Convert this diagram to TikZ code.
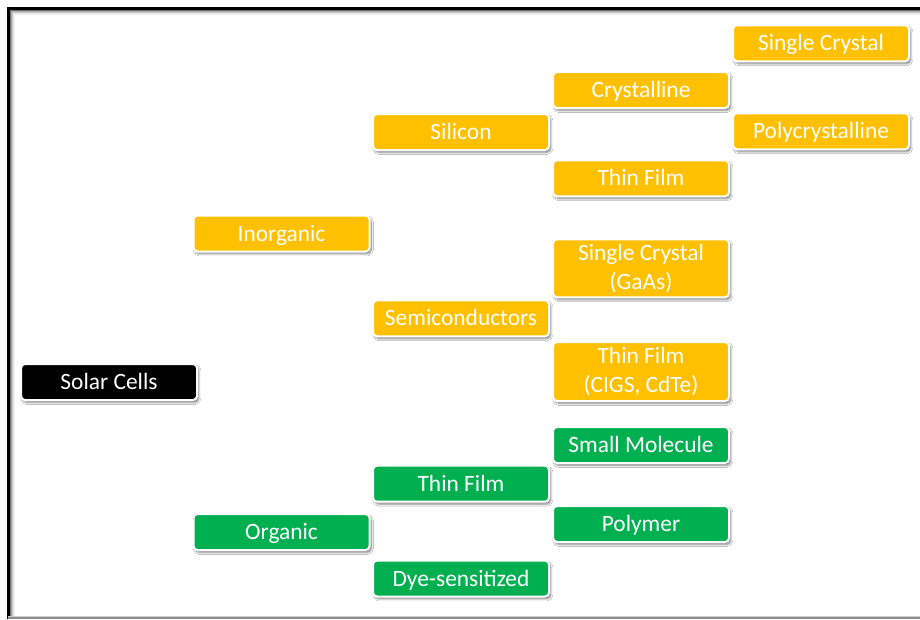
\documentclass[tikz,border=0pt]{standalone}
\usepackage{fontspec}
\setmainfont{Carlito}
\usetikzlibrary{shadows.blur}
\definecolor{amber}{HTML}{FFC000}
\definecolor{leaf}{HTML}{00B050}
\tikzset{
  box/.style={rectangle, rounded corners=4pt, draw=white, line width=2pt,
    minimum width=176pt, minimum height=36pt, inner sep=2pt,
    text=white, font=\fontsize{23.4}{28.6}\selectfont, align=center,
    blur shadow={shadow xshift=1.8pt, shadow yshift=-2.4pt,
      shadow blur radius=2pt, shadow blur steps=6, shadow opacity=50}},
  onel/.style={text height=17.5pt, text depth=2.4pt},
  inorgbox/.style={box, fill=amber},
  orgbox/.style={box, fill=leaf},
  rootbox/.style={box, fill=black},
}
\begin{document}
\begin{tikzpicture}[x=1pt, y=-1pt]
  % canvas
  \fill[white] (0,0) rectangle (920,619);
  \useasboundingbox (0,0) rectangle (920,619);
  % frame with a soft inner shade
  \foreach \d/\g in {1/55,2/35,3/20,4/10,5/5}{
    \draw[black!\g, line width=1pt] (9.5+\d,619) -- (9.5+\d,9.5+\d) -- (920,9.5+\d);
  }
  \draw[black, line width=3pt] (8.5,619) -- (8.5,8.5) -- (920,8.5);
  \draw[black!45, line width=1.5pt] (8,617.8) -- (920,617.8);
  \draw[black!20, line width=1.5pt] (8,616.3) -- (920,616.3);

  % root
  \node[rootbox, onel] (solar) at (109,382) {Solar Cells};
  % level 1
  \node[inorgbox, onel] (inorg) at (281.5,233.5) {Inorganic};
  \node[orgbox, onel] (org) at (281.5,532) {Organic};
  % level 2
  \node[inorgbox, onel] (silicon) at (461,132) {Silicon};
  \node[inorgbox, onel] (semi) at (461,318.3) {Semiconductors};
  \node[orgbox, onel] (tfo) at (461,483.7) {Thin Film};
  \node[orgbox, onel] (dye) at (461,578.5) {Dye-sensitized};
  % level 3
  \node[inorgbox, onel] (crys) at (641,90) {Crystalline};
  \node[inorgbox, onel] (tfsi) at (641,178.3) {Thin Film};
  \node[inorgbox, minimum height=58pt] (gaas) at (641,268.3) {Single Crystal\\(GaAs)};
  \node[inorgbox, minimum height=59pt] (cigs) at (641,371.5) {Thin Film\\(CIGS, CdTe)};
  \node[orgbox, onel] (smol) at (641,445) {Small Molecule};
  \node[orgbox, onel] (poly) at (641,524) {Polymer};
  % level 4
  \node[inorgbox, onel] (sc) at (821,43.3) {Single Crystal};
  \node[inorgbox, onel] (pc) at (821,131.3) {Polycrystalline};
\end{tikzpicture}
\end{document}
